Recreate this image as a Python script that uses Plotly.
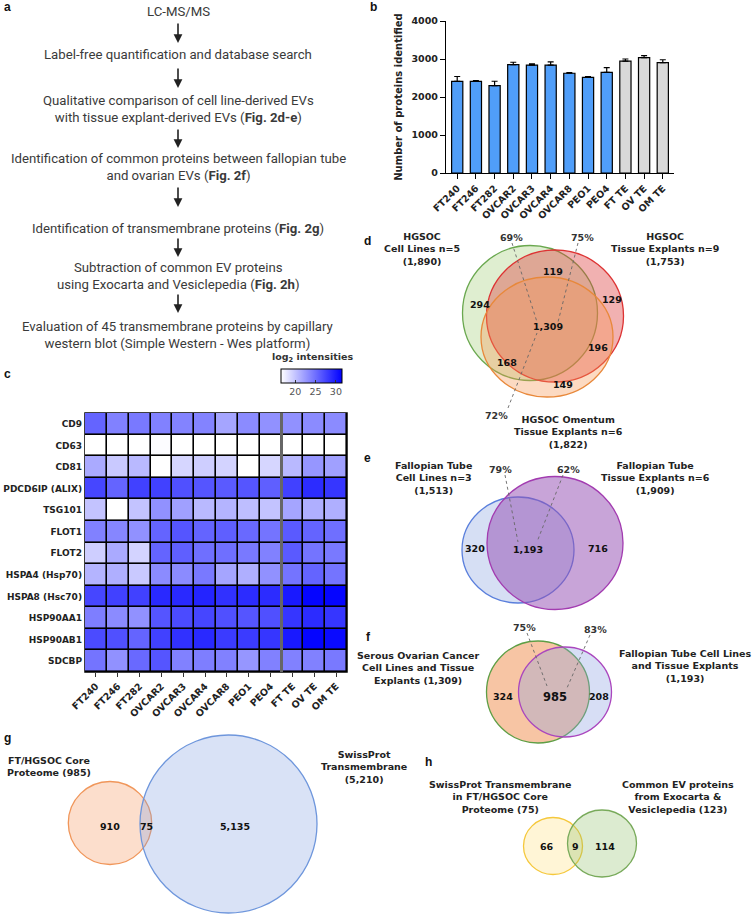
import plotly.graph_objects as go

W, H = 753, 915


def X(px):
    return px / W


def Y(py):
    return 1 - py / H


# ---------------- Panel b data ----------------
samples = ["FT240", "FT246", "FT282", "OVCAR2", "OVCAR3", "OVCAR4",
           "OVCAR8", "PEO1", "PEO4", "FT TE", "OV TE", "OM TE"]
proteins_mean = [2410, 2410, 2300, 2850, 2840, 2840, 2625, 2515, 2650, 2945, 3035, 2905]
proteins_err = [130, 20, 115, 65, 30, 85, 20, 25, 125, 55, 55, 75]
bar_colors = ["#509ef9"] * 9 + ["#d9d9d9"] * 3
y_ticks = [0, 1000, 2000, 3000, 4000]

# ---------------- Panel c data ----------------
markers = ["CD9", "CD63", "CD81", "PDCD6IP (ALIX)", "TSG101", "FLOT1", "FLOT2",
           "HSPA4 (Hsp70)", "HSPA8 (Hsc70)", "HSP90AA1", "HSP90AB1", "SDCBP"]
cd9 = [25.6, 23.9, 24.4, 23.9, 23.8, 23.8, 21.8, 23.3, 23.0, 23.0, 23.3, 23.3]
cd63 = [15, 15, 15, 16.7, 15, 15, 15, 15, 15, 15, 15, 15]
cd81 = [21.5, 19.7, 20.6, 15, 18.9, 19.4, 19.1, 15, 18.9, 20.6, 22.7, 22.1]
pdcd6ip = [27.4, 25.6, 27.7, 27.7, 26.8, 26.5, 26.2, 26.5, 25.9, 27.7, 28.9, 28.3]
tsg101 = [20.0, 15, 20.0, 23.0, 22.1, 20.6, 20.9, 20.3, 20.0, 21.8, 21.2, 21.2]
flot1 = [23.9, 23.6, 23.0, 25.6, 26.5, 25.6, 25.9, 25.3, 24.7, 26.2, 25.6, 25.0]
flot2 = [19.4, 21.5, 19.1, 25.6, 25.9, 25.0, 25.0, 24.4, 23.9, 26.2, 24.7, 24.4]
hspa4 = [20.9, 21.2, 19.7, 23.3, 23.3, 24.4, 21.8, 21.2, 23.0, 24.7, 25.6, 24.7]
hspa8 = [27.4, 27.7, 27.7, 29.1, 29.1, 29.4, 28.6, 28.9, 28.9, 30.0, 31.2, 31.2]
hsp90aa1 = [24.1, 23.3, 23.0, 26.5, 27.1, 27.4, 26.8, 26.5, 26.8, 28.3, 28.9, 28.3]
hsp90ab1 = [27.1, 26.8, 25.6, 27.7, 28.6, 29.1, 28.0, 28.0, 28.3, 30.0, 31.2, 30.9]
sdcbp = [24.7, 23.0, 25.3, 26.5, 23.9, 24.1, 23.9, 22.7, 23.9, 23.9, 23.9, 24.4]
heat_rows = [cd9, cd63, cd81, pdcd6ip, tsg101, flot1, flot2, hspa4, hspa8,
             hsp90aa1, hsp90ab1, sdcbp]
cbar_ticks = [20, 25, 30]

# ---------------- Venn data ----------------
venn_d_counts = ["294", "119", "129", "1,309", "196", "168", "149"]
venn_d_pct = ["69%", "75%", "72%"]
venn_d_labels = ["HGSOC<br>Cell Lines n=5<br>(1,890)",
                 "HGSOC<br>Tissue Explants n=9<br>(1,753)",
                 "HGSOC Omentum<br>Tissue Explants n=6<br>(1,822)"]
venn_e_counts = ["320", "1,193", "716"]
venn_e_pct = ["79%", "62%"]
venn_e_labels = ["Fallopian Tube<br>Cell Lines n=3<br>(1,513)",
                 "Fallopian Tube<br>Tissue Explants n=6<br>(1,909)"]
venn_f_counts = ["324", "985", "208"]
venn_f_pct = ["75%", "83%"]
venn_f_labels = ["Serous Ovarian Cancer<br>Cell Lines and Tissue<br>Explants (1,309)",
                 "Fallopian Tube Cell Lines<br>and Tissue Explants<br>(1,193)"]
venn_g_counts = ["910", "75", "5,135"]
venn_g_labels = ["FT/HGSOC Core<br>Proteome (985)",
                 "SwissProt<br>Transmembrane<br>(5,210)"]
venn_h_counts = ["66", "9", "114"]
venn_h_labels = ["SwissProt Transmembrane<br>in FT/HGSOC Core<br>Proteome (75)",
                 "Common EV proteins<br>from Exocarta &<br>Vesiclepedia (123)"]

flow_steps = [
    "LC-MS/MS",
    "Label-free quantification and database search",
    "Qualitative comparison of cell line-derived EVs<br>with tissue explant-derived EVs (<b>Fig. 2d-e</b>)",
    "Identification of common proteins between fallopian tube<br>and ovarian EVs (<b>Fig. 2f</b>)",
    "Identification of transmembrane proteins (<b>Fig. 2g</b>)",
    "Subtraction of common EV proteins<br>using Exocarta and Vesiclepedia (<b>Fig. 2h</b>)",
    "Evaluation of 45 transmembrane proteins by capillary<br>western blot (Simple Western - Wes platform)",
]

BOLDFONT = "DejaVu Sans"
bold = dict(family=BOLDFONT, size=9.5, color="#222", weight="bold")
rowfont = dict(family=BOLDFONT, size=9, color="#222", weight="bold")

fig = go.Figure()

# ---- bar chart ----
fig.add_trace(go.Bar(
    x=samples, y=proteins_mean, marker=dict(color=bar_colors, line=dict(color="black", width=1.2)),
    width=0.6,
    error_y=dict(type="data", symmetric=False, array=proteins_err, arrayminus=[0] * len(samples),
                 color="black", thickness=1.2, width=3),
    xaxis="x", yaxis="y", showlegend=False))

# ---- heatmap ----
fig.add_trace(go.Heatmap(
    z=heat_rows, x=samples, y=markers, xaxis="x2", yaxis="y2",
    colorscale=[[0, "#ffffff"], [1, "#0000ff"]], zmin=16.5, zmax=31.5,
    xgap=1.6, ygap=1.6,
    colorbar=dict(orientation="h", lenmode="pixels", len=61, thickness=14,
                  x=X(311.5), xanchor="center", y=Y(369), yanchor="top",
                  xpad=0, ypad=0, outlinecolor="black", outlinewidth=1,
                  tickvals=cbar_ticks, ticks="inside", ticklen=3, tickcolor="#333",
                  tickfont=dict(family="DejaVu Sans", size=9.5, color="#555")),
))

fig.update_layout(
    width=W, height=H, margin=dict(l=0, r=0, t=0, b=0, autoexpand=False),
    paper_bgcolor="white", plot_bgcolor="rgba(0,0,0,0)",
    xaxis=dict(domain=[X(446), X(674)], range=[-0.6, 11.6], anchor="y", automargin=False,
               showline=True, linecolor="black", linewidth=1.3, ticks="outside", ticklen=5,
               tickcolor="black", tickangle=-45, tickfont=bold, showgrid=False, zeroline=False),
    yaxis=dict(domain=[Y(173), Y(21)], range=[0, 4000], anchor="x", tickvals=y_ticks,
               automargin=False,
               showline=True, linecolor="black", linewidth=1.3, ticks="outside", ticklen=5,
               tickcolor="black", tickfont=bold, showgrid=False, zeroline=False,
               title=dict(text="Number of proteins identified",
                          font=dict(family=BOLDFONT, size=10, color="#222", weight="bold"),
                          standoff=6)),
    xaxis2=dict(domain=[X(85), X(347)], anchor="y2", tickangle=-45, tickfont=bold,
                automargin=False,
                ticks="outside", ticklen=4, tickcolor="#333", showgrid=False, zeroline=False),
    yaxis2=dict(domain=[Y(672), Y(413)], anchor="x2", autorange="reversed", tickfont=rowfont,
                automargin=False,
                showgrid=False, zeroline=False, ticks="", ticklabelstandoff=2),
)

shapes = []
annots = []

# heatmap black grid background and separator
shapes.append(dict(type="rect", xref="x2 domain", yref="y2 domain", x0=0, x1=1, y0=0, y1=1,
                   fillcolor="black", line=dict(color="black", width=1.5), layer="below"))
shapes.append(dict(type="line", xref="x2", yref="y2 domain", x0=8.5, x1=8.5, y0=0, y1=1,
                   line=dict(color="#666", width=3)))
annots.append(dict(text="log<sub>2</sub> intensities", x=X(312), y=Y(358), xref="paper",
                   yref="paper", showarrow=False, xanchor="center", yanchor="middle",
                   font=dict(family=BOLDFONT, size=9.5, color="#333", weight="bold")))

# ---- panel letters ----
for letter, px, py in [("a", 8, 7), ("b", 373, 7), ("c", 8, 374), ("d", 367, 241),
                       ("e", 367, 458), ("f", 368, 637), ("g", 8, 738), ("h", 428, 762)]:
    annots.append(dict(text="<b>%s</b>" % letter, x=X(px), y=Y(py), xref="paper", yref="paper",
                       showarrow=False, xanchor="center", yanchor="middle",
                       font=dict(family="Arial", size=12, color="#111")))

# ---- panel a flowchart ----
flow_y = [11, 55, 108.5, 167.5, 228, 276, 334.5]
for txt, py in zip(flow_steps, flow_y):
    annots.append(dict(text=txt, x=X(178), y=Y(py), xref="paper", yref="paper", showarrow=False,
                       align="center", xanchor="center", yanchor="middle",
                       font=dict(family="Roboto", size=13.2, color="#3a3a3a")))
arrow_spans = [(22, 43), (67, 88), (128, 148), (186, 207), (237, 257), (293, 313)]
for a0, a1 in arrow_spans:
    annots.append(dict(text="", x=X(178), y=Y(a1), xref="paper", yref="paper",
                       ax=0, ay=-(a1 - a0), axref="pixel", ayref="pixel",
                       showarrow=True, arrowhead=2, arrowsize=1.1, arrowwidth=1.6, arrowcolor="#222"))


def circle(cx, cy, rx, ry, fill, line):
    shapes.append(dict(type="circle", xref="paper", yref="paper", x0=X(cx - rx), x1=X(cx + rx),
                       y0=Y(cy + ry), y1=Y(cy - ry), fillcolor=fill,
                       line=dict(color=line, width=1.3), layer="above"))


def dashed(p0, p1):
    shapes.append(dict(type="line", xref="paper", yref="paper", x0=X(p0[0]), y0=Y(p0[1]),
                       x1=X(p1[0]), y1=Y(p1[1]), line=dict(color="#666", width=0.9, dash="dot"),
                       layer="above"))


def text(t, px, py, size=9.5, color="#222"):
    annots.append(dict(text=t, x=X(px), y=Y(py), xref="paper", yref="paper",
                       showarrow=False, align="center", xanchor="center", yanchor="middle",
                       font=dict(family=BOLDFONT, size=size, color=color, weight="bold")))


# ---- panel d ----
circle(530, 313, 67.5, 67.5, "rgba(150,200,100,0.30)", "#6aa84f")
circle(555, 316, 68.5, 66, "rgba(220,60,60,0.40)", "#dd3333")
circle(547, 337, 66, 60, "rgba(245,150,80,0.35)", "#e8883a")
for t, (px, py) in zip(venn_d_counts, [(480, 304), (553, 271), (612, 299), (548, 326),
                                        (598, 348), (507, 362), (563, 384)]):
    text(t, px, py, 9.5, "#111")
for t, (px, py) in zip(venn_d_pct, [(512, 237), (582, 237), (496, 415)]):
    text(t, px, py, 9.5, "#333")
dashed((512, 243), (537, 322))
dashed((578, 243), (558, 322))
dashed((508, 408), (537, 333))
for t, (px, py) in zip(venn_d_labels, [(422, 249), (665, 249), (568, 432)]):
    text(t, px, py)

# ---- panel e ----
circle(518, 550, 56, 53, "rgba(120,150,220,0.30)", "#5a7fdc")
circle(555, 543, 68, 66.5, "rgba(150,80,180,0.52)", "#a23bb0")
for t, (px, py) in zip(venn_e_counts, [(475, 548), (528, 549), (598, 548)]):
    text(t, px, py, 9.5, "#111")
for t, (px, py) in zip(venn_e_pct, [(500, 469), (568, 469)]):
    text(t, px, py, 9.5, "#333")
dashed((505, 475), (518, 542))
dashed((563, 475), (537, 542))
for t, (px, py) in zip(venn_e_labels, [(433, 478), (655, 478)]):
    text(t, px, py)

# ---- panel f ----
circle(538, 692, 51.5, 51, "rgba(240,150,90,0.55)", "#5e9e45")
circle(565, 692, 46.5, 45, "rgba(140,160,225,0.35)", "#aa46be")
for t, (px, py), s in zip(venn_f_counts, [(503, 696), (555, 697), (599, 696)], [9.5, 11.5, 9.5]):
    text(t, px, py, s, "#111")
for t, (px, py) in zip(venn_f_pct, [(524, 627), (595, 629)]):
    text(t, px, py, 9.5, "#333")
dashed((527, 633), (547, 686))
dashed((590, 635), (567, 688))
for t, (px, py) in zip(venn_f_labels, [(419, 668), (685, 666)]):
    text(t, px, py)

# ---- panel g ----
circle(110, 823, 41.7, 41.5, "rgba(245,160,110,0.35)", "#f0965a")
circle(228.5, 824, 88.5, 89, "rgba(130,160,225,0.30)", "#6e96dc")
for t, (px, py) in zip(venn_g_counts, [(110, 826), (146, 826), (235, 826)]):
    text(t, px, py, 9.5, "#111")
for t, (px, py) in zip(venn_g_labels, [(49, 766), (364, 767)]):
    text(t, px, py)

# ---- panel h ----
circle(553, 846, 29.5, 28.5, "rgba(255,215,90,0.25)", "#f5c83c")
circle(602, 843.5, 34.5, 33.5, "rgba(140,190,100,0.30)", "#78aa5a")
for t, (px, py) in zip(venn_h_counts, [(547, 846), (575, 846), (605, 846)]):
    text(t, px, py, 9.5, "#111")
for t, (px, py) in zip(venn_h_labels, [(500, 797), (678, 797)]):
    text(t, px, py)

fig.update_layout(shapes=shapes, annotations=annots)
fig.write_html("out.html", config={"displayModeBar": False},
               post_script="document.body.style.margin='0';")
